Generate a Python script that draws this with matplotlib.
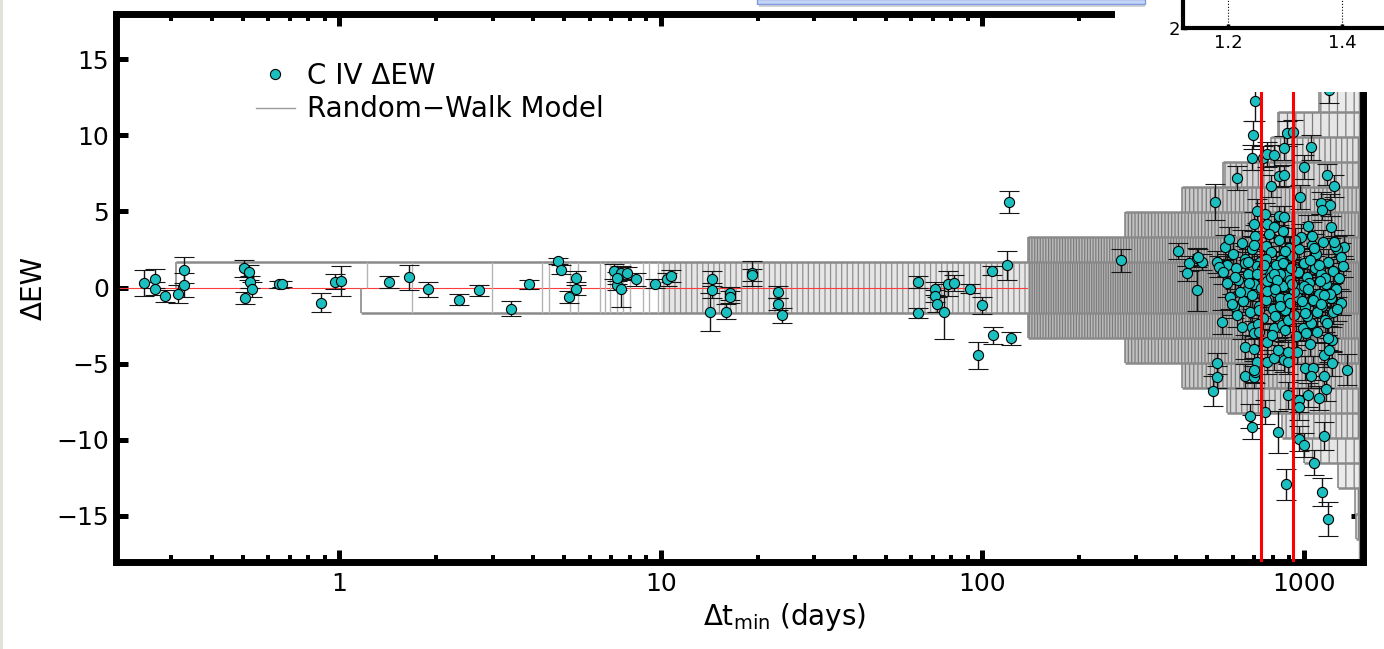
import numpy as np
import matplotlib
matplotlib.use("Agg")
from matplotlib import pyplot as plt
from matplotlib.lines import Line2D
from matplotlib.patches import Rectangle
from matplotlib.ticker import NullLocator, NullFormatter

plt.rcParams["hatch.linewidth"] = 0.9

# --- C IV delta-EW measurements: short time-lags (days) ---
dt_short = [0.246, 0.267, 0.267, 0.287, 0.314, 0.329, 0.329, 0.503, 0.525, 0.527,
            0.534, 0.509, 0.647, 0.662, 0.876, 0.970, 1.011, 1.423, 1.642, 1.89,
            2.36, 2.72, 3.42, 3.89, 4.78, 4.88, 5.44, 5.44, 5.19, 7.15,
            7.51, 7.84, 7.30, 7.50, 7.30, 8.34, 9.55, 10.44, 10.74, 14.4,
            14.4, 14.2, 15.9, 16.4, 16.4, 19.2, 19.2, 23.1, 23.1, 23.8,
            63.1, 63.1, 71.4, 71.4, 72.0, 75.8, 78.0, 81.5, 91.4, 99.9,
            97.0, 108.0, 122.4, 106.7, 119.5, 120.9, 269.0]
dew_short = [0.30, 0.59, -0.07, -0.55, -0.44, 0.15, 1.16, 1.25, 0.99, 0.37,
             -0.13, -0.68, 0.20, 0.24, -0.99, 0.37, 0.41, 0.37, 0.66, -0.13,
             -0.79, -0.18, -1.38, 0.22, 1.73, 1.16, 0.63, -0.07, -0.64, 1.07,
             0.98, 0.92, 0.15, -0.07, 0.60, 0.53, 0.24, 0.53, 0.76, 0.59,
             -0.18, -1.60, -1.60, -0.39, -0.62, 0.92, 0.81, -0.29, -1.10, -1.82,
             0.37, -1.67, -0.07, -0.57, -1.10, -1.60, 0.26, 0.30, -0.07, -1.16,
             -4.45, -3.13, -3.35, 1.09, 1.47, 5.62, 1.79]
err_short = [0.85, 0.60, 0.40, 0.40, 0.60, 0.80, 0.85, 0.55, 0.50, 0.40,
             0.50, 0.40, 0.20, 0.20, 0.60, 0.50, 1.00, 0.40, 0.85, 0.50,
             0.35, 0.35, 0.50, 0.30, 0.20, 0.30, 0.45, 0.40, 0.40, 0.50,
             0.45, 0.45, 0.30, 1.20, 0.40, 0.40, 0.30, 0.40, 0.40, 0.50,
             0.50, 1.25, 0.50, 0.40, 0.40, 0.85, 0.40, 0.40, 0.40, 0.50,
             0.40, 0.35, 0.40, 0.40, 0.50, 1.80, 0.80, 0.50, 0.30, 0.55,
             0.90, 0.55, 0.45, 0.30, 0.95, 0.70, 0.75]

# --- long time-lags: outlying points ---
dt_long = [407, 439, 466, 483, 432, 466, 469, 703, 695, 688,
           748, 765, 808, 883, 925, 868, 1051, 1001, 837, 864,
           789, 618, 529, 1178, 1242, 971, 1129, 1201, 1134, 1213,
           1334, 1031, 717, 757, 837, 868, 700, 768, 808, 567,
           538, 578, 545, 1200,
           536, 536, 523, 655, 700, 703, 680, 688, 757, 832,
           895, 963, 963, 1026, 1111, 1173, 1366, 963, 1001, 1156,
           1071, 880, 1137, 1190, 1006, 1068, 1051, 1151, 1151, 1222,
           1222, 1045, 767, 808, 864, 890, 830, 893, 950, 656,
           698, 717, 700, 558, 606, 690, 700, 767, 808, 855,
           895, 990, 1050, 1160, 1230, 1200]
dew_long = [2.40, 1.58, 1.97, 1.68, 0.92, -0.18, 2.01, 12.23, 10.03, 8.54,
            8.52, 8.74, 8.69, 10.12, 10.22, 9.17, 9.20, 7.92, 7.31, 7.38,
            6.66, 7.18, 5.62, 7.42, 6.66, 5.95, 5.56, 5.41, 5.12, 3.98,
            2.67, 4.05, 5.03, 4.86, 4.68, 4.64, 4.14, 4.16, 3.98, 2.67,
            1.68, 1.47, 1.36, 12.95,
            -4.99, -5.87, -6.79, -5.83, -5.87, -5.55, -8.46, -9.16, -8.19, -9.49,
            -7.08, -7.40, -7.88, -7.08, -7.25, -6.64, -5.39, -9.92, -10.36, -9.75,
            -11.50, -12.94, -13.43, -15.22, -5.28, -5.28, -5.83, -5.83, -4.45, -4.99,
            -3.42, -3.68, -4.89, -4.60, -4.78, -4.89, -4.12, -4.23, -4.23, -3.90,
            -4.01, -4.89, -5.43, -2.26, -1.23, -2.59, -3.02, -3.57, -2.69, -2.48,
            -2.15, -2.69, -2.33, -2.15, -1.60, -4.12]
err_long = [0.50, 0.50, 0.60, 0.50, 0.50, 1.36, 0.50, 1.30, 0.90, 0.80,
            0.80, 0.80, 0.70, 0.80, 0.80, 0.80, 0.80, 0.80, 0.70, 0.70,
            0.70, 0.80, 1.20, 0.70, 0.70, 0.80, 0.70, 0.70, 0.70, 0.70,
            0.80, 0.70, 0.80, 0.70, 0.70, 0.70, 0.80, 0.70, 0.70, 0.80,
            0.70, 0.70, 0.70, 0.80,
            0.70, 0.70, 1.00, 0.80, 0.70, 0.70, 0.80, 0.80, 0.80, 1.40,
            0.90, 0.80, 0.80, 0.80, 0.80, 0.80, 1.00, 0.80, 0.80, 0.90,
            0.80, 1.00, 0.90, 1.10, 0.80, 0.80, 0.80, 0.80, 0.80, 0.80,
            0.80, 0.80, 0.80, 0.80, 0.80, 0.80, 0.80, 0.80, 0.80, 0.80,
            0.80, 0.80, 0.80, 0.80, 0.80, 0.80, 0.80, 0.80, 0.80, 0.80,
            0.80, 0.80, 0.80, 0.80, 0.80, 0.80]

# --- long time-lags: crowded core ---
dt_core = [585, 640, 705, 760, 835, 900, 980, 1060, 1150, 1270,
           600, 655, 690, 730, 790, 850, 920, 1000, 1090, 1190, 1300,
           560, 615, 670, 715, 745, 780, 820, 880, 940, 1020, 1080, 1130, 1230,
           575, 625, 660, 700, 735, 770, 810, 860, 905, 965, 1040, 1110, 1170, 1260,
           590, 645, 690, 725, 760, 800, 845, 890, 950, 1005, 1070, 1140, 1210, 1300,
           620, 680, 745, 815, 870, 930, 1020, 1100, 1180,
           655, 760, 875, 965, 1110, 720, 840, 1000, 790, 930,
           610, 675, 740, 805, 860, 915, 1045, 1165, 1245,
           632, 712, 768, 826, 890, 958, 1032, 1120, 1205,
           598, 668, 752, 842, 912, 985, 1075, 1155, 1285,
           640, 725, 795, 870, 945, 1015, 1095, 1190,
           700, 780, 860, 935, 1060, 1240, 1320,
           725, 810, 905, 1005, 1130, 1265]
dew_core = [3.2, 2.9, 3.4, 2.7, 3.1, 2.6, 3.3, 2.8, 3.0, 2.5,
            2.2, 1.9, 2.5, 1.7, 2.3, 1.8, 2.1, 1.6, 2.2, 1.7, 2.0,
            1.0, 1.3, 0.9, 1.4, 0.6, 1.1, 1.5, 0.8, 1.2, 0.7, 1.3, 0.9, 1.1,
            0.3, 0.5, -0.2, 0.2, 0.0, 0.4, -0.3, 0.1, 0.5, -0.1, 0.3, -0.4, 0.2, -0.1,
            -0.6, -0.9, -0.5, -1.2, -0.8, -1.4, -0.7, -1.1, -0.6, -1.3, -0.8, -1.2, -0.7, -1.0,
            -1.8, -1.6, -2.0, -1.9, -1.5, -1.8, -1.9, -1.6, -2.3,
            1.6, 1.9, 2.4, 2.5, 1.5, -2.4, 0.9, 0.1, 0.7, -0.3,
            0.7, 0.3, 1.2, 0.9, 1.6, 0.2, 1.8, 0.6, 2.7,
            -0.3, 0.9, -0.2, 0.5, -0.7, 1.0, -0.1, 0.4, -0.4,
            -1.1, 1.7, 1.5, -1.2, 1.3, -0.9, 2.6, -0.5, 0.6,
            -2.6, -2.9, -3.1, -2.8, -3.2, -3.0, -2.9, -3.3,
            2.8, 3.5, 3.7, 3.1, 3.4, 3.0, 1.4,
            -1.5, -0.1, -1.0, -1.7, -1.1, -1.4]
err_core = [0.8, 0.9, 0.7, 0.8, 1.0, 0.8, 0.9, 0.7, 0.8, 0.9,
            0.7, 0.8, 0.9, 0.8, 0.7, 0.9, 0.8, 1.0, 0.7, 0.8, 0.9,
            0.8, 0.7, 0.9, 0.8, 0.7, 0.8, 0.9, 0.8, 0.7, 0.9, 0.8, 0.7, 0.8,
            0.9, 0.8, 0.7, 0.8, 0.9, 0.7, 0.8, 0.9, 0.7, 0.8, 0.9, 0.8, 0.7, 0.9,
            0.8, 0.7, 0.9, 0.8, 0.7, 0.9, 0.8, 0.7, 0.8, 0.9, 0.7, 0.8, 0.9, 0.8,
            0.8, 0.9, 0.7, 0.8, 0.9, 0.7, 0.8, 0.9, 0.8,
            0.7, 0.8, 0.9, 0.8, 0.7, 0.9, 0.8, 0.7, 0.8, 0.9,
            0.8, 0.7, 0.9, 0.8, 0.7, 0.8, 0.9, 0.8, 0.7,
            0.9, 0.8, 0.7, 0.8, 0.9, 0.7, 0.8, 0.9, 0.8,
            0.7, 0.8, 0.9, 0.8, 0.7, 0.8, 0.9, 0.8, 0.7,
            0.8, 0.9, 0.7, 0.8, 0.9, 0.8, 0.7, 0.8,
            0.9, 0.8, 0.7, 0.8, 0.9, 0.8, 0.7,
            0.8, 0.9, 0.7, 0.8, 0.9, 0.8]

# --- random-walk model envelope (levels in EW, lag where each level first appears) ---
rw_levels = [1.65, 3.30, 4.95, 6.60, 8.25, 9.90, 11.55, 13.20, 14.85, 16.50]
rw_up_start = [0.31, 139, 277, 419, 560, 790, 830, 1110]
rw_lo_start = [1.17, 139, 277, 419, 577, 855, 1000, 1280, 1440, 1450]
rw_end = 1480
rw_jumps = [1.68, 2.98, 4.27, 4.47, 5.21, 5.54, 6.47, 6.70, 6.95, 7.30,
            7.60, 8.00, 8.80, 9.20, 9.80]
rw_jumps_upper = [1.22]

# marked lags (vertical red lines)
red_lags = [735, 925]

CYAN = "#1cbfbf"
GREY = "#8a8a8a"

fig = plt.figure(figsize=(13.84, 6.49), dpi=100)
ax = fig.add_axes([116 / 1384, 1 - 561.5 / 649, 1246.5 / 1384, 548 / 649])
ax.set_xscale("log")
ax.set_xlim(0.2018, 1521)
ax.set_ylim(-18, 18)

# zero line (visible through the sparse part of the model, hidden by the dense part)
ax.axhline(0, color="#ff3b3b", lw=0.8, zorder=1.65)

# model: shaded, hatched bands (denser near zero)
band_face = ["#b4b4b4", "#bababa", "#c2c2c2", "#cacaca", "#d6d6d6",
             "#e0e0e0", "#e6e6e6", "#ebebeb", "#efefef", "#f2f2f2"]
band_hatch = ["|||||||", "||||||", "|||||", "||||", "|||", "|||", "||", "||", "|", "|"]


def band(x0, y0, y1, face, hatch):
    ax.fill_between([x0, rw_end], y0, y1, facecolor=face, edgecolor="none",
                    linewidth=0, zorder=1.7)
    ax.fill_between([x0, rw_end], y0, y1, facecolor="none", edgecolor="#7c7c7c",
                    hatch=hatch, linewidth=0, zorder=1.8)


ax.fill_between([10, 139], -rw_levels[0], rw_levels[0], facecolor="#e6e6e6",
                edgecolor="none", linewidth=0, zorder=1.5)
ax.fill_between([10, 139], -rw_levels[0], rw_levels[0], facecolor="none",
                edgecolor="#909090", hatch="|||", linewidth=0, zorder=1.6)
for k, lvl in enumerate(rw_levels):
    inner = rw_levels[k - 1] if k > 0 else 0.0
    if k < len(rw_up_start):
        band(max(rw_up_start[k], 139), inner, lvl, band_face[k], band_hatch[k])
        ax.hlines(lvl, rw_up_start[k], rw_end, color=GREY, lw=1.8, zorder=2)
        ax.vlines(rw_up_start[k], inner, lvl, color=GREY, lw=1.2, zorder=2)
    if k < len(rw_lo_start):
        band(max(rw_lo_start[k], 139), -lvl, -inner, band_face[k], band_hatch[k])
        ax.hlines(-lvl, rw_lo_start[k], rw_end, color=GREY, lw=1.8, zorder=2)
        ax.vlines(rw_lo_start[k], -lvl, -inner, color=GREY, lw=1.2, zorder=2)
ax.vlines(rw_jumps, -rw_levels[0], rw_levels[0], color="#b4b4b4", lw=1.0, zorder=2)
ax.vlines(rw_jumps_upper, 0, rw_levels[0], color="#b4b4b4", lw=1.0, zorder=2)
ax.vlines(rw_end, -18, rw_levels[len(rw_up_start) - 1], color=GREY, lw=1.0, zorder=2)

# data
for xs, ys, es in [(dt_short, dew_short, err_short),
                   (dt_long, dew_long, err_long),
                   (dt_core, dew_core, err_core)]:
    ax.errorbar(xs, ys, yerr=es, fmt="o", ms=7.3, mfc=CYAN, mec="black", mew=0.8,
                ecolor="#151515", elinewidth=1.0, capsize=7, capthick=1.0, zorder=3)

for lag in red_lags:
    ax.axvline(lag, color="#ff0000", lw=2.2, zorder=4)

# axes styling
for sp in ax.spines.values():
    sp.set_linewidth(5)
ax.tick_params(which="both", direction="in", top=True, right=True, labelsize=18)
ax.tick_params(which="major", length=8.6, width=3.6)
ax.tick_params(which="minor", length=4.7, width=2.9)
ax.tick_params(axis="x", pad=7.5)
ax.tick_params(axis="y", pad=5)
ax.set_xticks([1, 10, 100, 1000], labels=["1", "10", "100", "1000"])
ax.xaxis.set_minor_formatter(NullFormatter())
ax.set_yticks([-15, -10, -5, 0, 5, 10, 15])
ax.yaxis.set_minor_locator(NullLocator())

ax.set_xlabel(r"$\Delta$t$_{\rm min}$ (days)", fontsize=20, va="top")
ax.xaxis.set_label_coords(0.5367, -0.072)
ax.set_ylabel("ΔEW", fontsize=20)
ax.yaxis.set_label_coords(-0.055, 0.5)

handles = [
    Line2D([], [], marker="o", ls="none", ms=7.3, mfc=CYAN, mec="black", mew=0.8),
    Line2D([], [], color="#9a9a9a", lw=1.0),
]
ax.legend(handles, ["C IV ΔEW", "Random−Walk Model"], loc="upper left",
          bbox_to_anchor=(0.1123, 0.912), frameon=False, fontsize=20,
          handlelength=1.4, handletextpad=0.45, labelspacing=0.2,
          borderpad=0, borderaxespad=0, numpoints=1)

# overlapping pieces of the screenshot: inset panel and window bar
fig.add_artist(Rectangle((1115 / 1384, 1 - 92 / 649), 1 - 1115 / 1384, 92 / 649,
                         transform=fig.transFigure, facecolor="white",
                         edgecolor="none", zorder=3))
fig.add_artist(Rectangle((0, 0), 3 / 1384, 1, transform=fig.transFigure,
                         facecolor="#e2e2da", edgecolor="none", zorder=3))

ax_in = fig.add_axes([1183 / 1384, 1 - 28 / 649, 0.25, 0.3])
ax_in.set_zorder(4)
ax_in.set_xlim(1.121, 1.728)
ax_in.set_ylim(2, 3)
ax_in.set_xticks([1.2, 1.4], labels=["1.2", "1.4"])
ax_in.set_yticks([2], labels=["2"])
ax_in.grid(axis="x", ls=":", color="black", lw=0.8)
for sp in ax_in.spines.values():
    sp.set_linewidth(3)
ax_in.tick_params(direction="in", length=3, width=2.5, labelsize=13)
ax_in.tick_params(axis="x", pad=4)
ax_in.tick_params(axis="y", pad=2)

fig.add_artist(Rectangle((759 / 1384, 1 - 7 / 649), 386 / 1384, 4 / 649,
                         transform=fig.transFigure, facecolor="#d4d4d4",
                         edgecolor="none", zorder=5))
fig.add_artist(Rectangle((757 / 1384, 1 - 4 / 649), 388 / 1384, 5 / 649,
                         transform=fig.transFigure, facecolor="#c4d4f6",
                         edgecolor="#7f9be0", lw=1, zorder=6))

fig.savefig("out.png", dpi=100)
